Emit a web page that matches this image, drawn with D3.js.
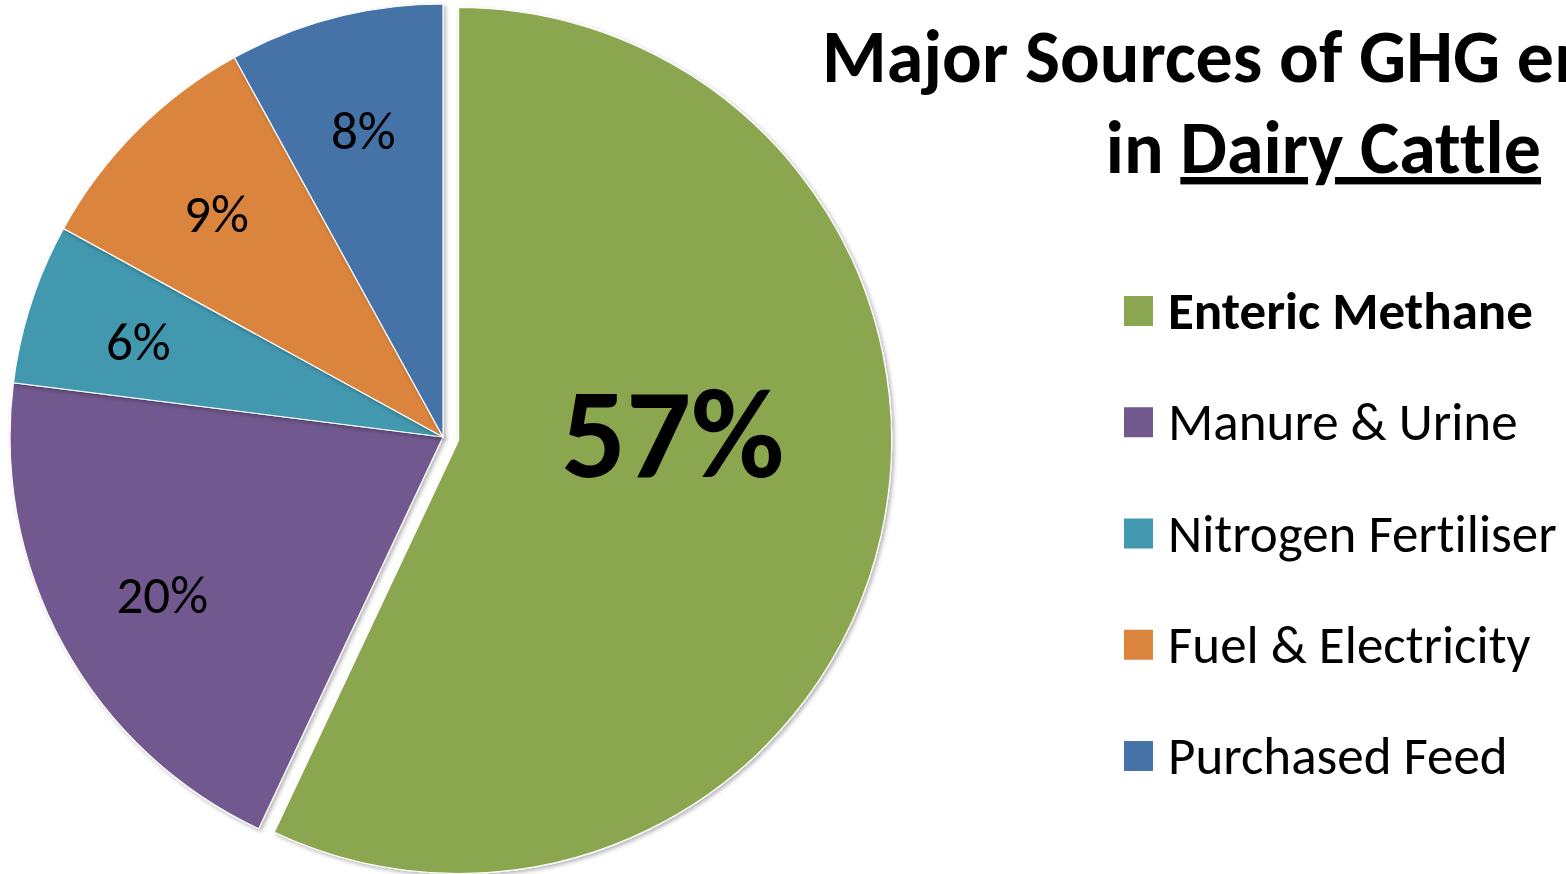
<!DOCTYPE html>
<html><head><meta charset="utf-8">
<script src="https://cdn.jsdelivr.net/npm/d3@7"></script>
<style>
html,body{margin:0;padding:0;background:#fff;overflow:hidden}
text{font-family:Carlito,Calibri,Lato,"Open Sans",sans-serif;font-variant-ligatures:none;font-feature-settings:"liga" 0,"dlig" 0}
</style></head>
<body><svg id="c" width="1566" height="874"></svg>
<script>
const categories = ["Enteric Methane","Manure & Urine","Nitrogen Fertiliser","Fuel & Electricity","Purchased Feed"];
const values = [57, 20, 6, 9, 8];
const colors = ["#8AA650","#71588F","#4298AF","#DB843D","#4572A7"];
const titleLine1 = "Major Sources of GHG emissions";
const titleLine2a = "in ";
const titleLine2b = "Dairy Cattle";

const svg = d3.select("#c");
const cx = 443, cy = 437, r = 433, explode = 16;

const defs = svg.append("defs");
const f = defs.append("filter").attr("id","sh").attr("x","-10%").attr("y","-10%").attr("width","120%").attr("height","120%");
f.append("feDropShadow").attr("dx",2).attr("dy",2).attr("stdDeviation",2).attr("flood-color","#000").attr("flood-opacity",0.3);

const pie = d3.pie().sort(null).value(d => d.v);
const data = categories.map((c,i)=>({c, v:values[i], col:colors[i], i}));
const arcs = pie(data);
const arc = d3.arc().innerRadius(0).outerRadius(r);
const labelArc = d3.arc().innerRadius(0).outerRadius(r*1.48);

const g = svg.append("g").attr("transform",`translate(${cx},${cy})`);
arcs.forEach(a => {
  const mid = (a.startAngle + a.endAngle)/2;
  const big = a.index === 0;
  const off = big ? explode : 0;
  const dx = Math.sin(mid)*off, dy = -Math.cos(mid)*off;
  const sg = g.append("g").attr("transform",`translate(${dx},${dy})`);
  sg.append("path").attr("d", arc(a)).attr("fill", a.data.col)
    .attr("stroke","#fff").attr("stroke-width",1.2).attr("filter","url(#sh)");
  let p;
  if (big) {
    const ang = Math.PI/2 - 0.035, rr = r*0.495;
    p = [Math.sin(ang)*rr, -Math.cos(ang)*rr];
  } else {
    const c = labelArc.centroid(a);
    p = [c[0], c[1] + 4];
  }
  sg.append("text").attr("x",p[0]).attr("y",p[1])
    .attr("text-anchor","middle").attr("dominant-baseline","central")
    .attr("font-size", big ? 128 : 53).attr("font-weight", big ? "bold" : "normal")
    .attr("fill","#000").text(a.data.v + "%");
});

// Title
svg.append("text").attr("x",822).attr("y",82).attr("font-size",74).attr("font-weight","bold")
  .attr("fill","#000").text(titleLine1);
const t2 = svg.append("text").attr("x",1541).attr("y",173).attr("text-anchor","end")
  .attr("font-size",74).attr("font-weight","bold").attr("fill","#000");
t2.append("tspan").text(titleLine2a);
t2.append("tspan").attr("text-decoration","underline").text(titleLine2b);

// Legend
const legendY = d3.scalePoint().domain(categories).range([311, 756]);
const lg = svg.append("g");
categories.forEach((c,i) => {
  const y = legendY(c);
  lg.append("rect").attr("x",1124).attr("y",y-15).attr("width",29).attr("height",30).attr("fill",colors[i]);
  lg.append("text").attr("x",1168).attr("y",y).attr("dominant-baseline","central")
    .attr("font-size",53).attr("font-weight", i===0 ? "bold" : "normal").attr("fill","#000").text(c);
});
</script></body></html>
